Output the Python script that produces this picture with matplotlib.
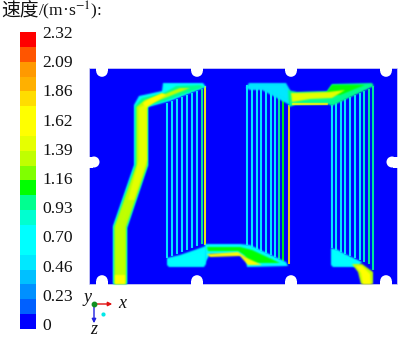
import numpy as np
import matplotlib
matplotlib.use("Agg")
import matplotlib.pyplot as plt
from matplotlib.colors import ListedColormap, BoundaryNorm
from matplotlib.patches import Circle, Polygon, Rectangle

title_cjk = "速度"
title_unit = "/(m·s$^{-1}$):"
tick_labels = ["2.32","2.09","1.86","1.62","1.39","1.16","0.93","0.70","0.46","0.23","0"]
tick_values = [2.32,2.09,1.86,1.62,1.39,1.16,0.93,0.70,0.46,0.23,0.0]
band_colors = ["#0000ff","#0060ff","#0090ff","#00c0ff","#00e8ff","#00ffff","#00ffff","#00ffd0",
               "#00ff90","#00ff00","#80ff00","#c0ff00","#e6ff00","#ffff00","#ffff00","#ffdd00",
               "#ffb000","#ff9900","#ff5500","#ff0000"]
cmap = ListedColormap(band_colors)
norm = BoundaryNorm(np.linspace(0, 2.32, 21), 20)

plate_x = [89, 397]
plate_y = [68, 284]
notch_x = [102, 197, 291, 386]
side_notch_y = [162]

g1_x = [167.3,172.3,177.3,182.3,187.3,192.3,197.3,201.7,204.8]
g1_v = [0.62,0.62,0.62,0.62,0.62,0.62,0.66,1.0,1.7]
g1_top = [103,101,99,97,95,93,91,89,86]
g1_bot = [258,256,254,252,250,248,246,244,245]

g2_x = [247.3,252,256.7,261.3,266,270.7,275.3,279.3,283.3,288.7]
g2_v = [0.62,0.62,0.62,0.62,0.62,0.62,0.66,0.95,1.05,1.75]
g2_top = [85,85,85,86,87,89,91,94,98,105]
g2_bot = [245,247,249,251,253,255,257,259,261,264]

g3_x = [331.7,336,340.5,345,350,355,359.5,364,368.5,372.7]
g3_v = [0.62,0.62,0.62,0.62,0.66,0.7,0.75,0.85,1.0,1.0]
g3_top = [105,103,101,99,97,95,93,91,89,86]
g3_bot = [248,250,252,254,256,258,260,262,264,270]

inlet_outer = [(113,284),(113,226),(134,165),(134,105),(139,96),(162,91),(163,83),(203,83),(206,87),
               (170,101),(148,107),(148,165),(127,228),(127,284)]
inlet_mid = [(113.5,284),(113.5,227),(135,165),(135,106),(142,98),(164,93),(176,86),(200,85),(204,87),
             (168,100),(148,106),(148,165),(127,227),(127,284)]
inlet_core = [(114.5,284),(114.5,227),(136.5,165),(136.5,107),(145,100),(165,94),(180,88),(190,88),(165,98),
              (147,105),(147,165),(126,227),(126,284)]
upper_core = [(139,160),(139,108),(146,104),(147,108),(147,160),(134,200),(128,200)]
inlet_hot = [(115,284),(115,275),(125,275),(125,284)]
bend_hot = [(143,103),(149,99),(162,93),(166,95),(152,104),(146,108)]

bm1 = [(167,258),(167,265),(169,267),(204,267),(206,264),(206,246),(180,255)]
link_a = [(205,244),(240,244),(250,245),(286,262),(288,266),(247,267),(246,258),(238,254),(210,254),(205,263)]
link_b = [(207,247),(240,247),(252,250),(280,263),(250,263),(244,255),(238,251),(208,251)]
link_y = [(207,254),(238,252),(247,258),(262,265),(248,265),(240,256),(210,257)]
top2 = [(246,88),(249,83),(286,83),(290,90),(290,105),(284,102),(262,90),(250,90)]
link2 = [(288,90),(297,92),(327,91),(332,84),(372,83),(374,86),(332,106),(328,104),(295,105),(289,107)]
link2_y = [(291,93),(328,92),(345,90),(332,98),(310,99),(292,102)]
link2_g = [(332,85),(365,85),(340,95),(325,95)]
link2_low = [(292,103),(328,103),(328,105),(292,105)]
bm3 = [(331,248),(331,265),(333,267),(358,267),(362,262),(345,254),(338,250)]
outlet_o = [(352,264),(362,264),(373,272),(373,284),(361,284),(358,272)]
outlet_y = [(356,266),(362,266),(370,274),(371,284),(363,284),(361,273)]

fig = plt.figure(figsize=(4, 3.38), dpi=100)
ax = fig.add_axes([0, 0, 1, 1])
ax.set_xlim(0, 400); ax.set_ylim(338, 0); ax.axis("off")

def blur(sigma):
    rad = int(np.ceil(3 * sigma))
    k = np.exp(-0.5 * (np.arange(-rad, rad + 1) / sigma) ** 2)
    k /= k.sum()
    def f(img, dpi):
        pad = rad + 1
        a = np.pad(img.astype(float), ((pad, pad), (pad, pad), (0, 0)))
        a[..., :3] *= a[..., 3:4]
        for axis in (0, 1):
            a = np.apply_along_axis(lambda m: np.convolve(m, k, mode="same"), axis, a)
        alpha = np.clip(a[..., 3:4], 1e-6, 1)
        a[..., :3] = np.clip(a[..., :3] / alpha, 0, 1)
        return a, -pad, -pad
    return f

def rgb(v):
    return cmap(norm(v))

def poly(verts, v, z=3, s=0.8):
    p = Polygon(verts, closed=True, fc=rgb(v), ec="none", zorder=z)
    p.set_agg_filter(blur(s))
    ax.add_patch(p)

bar = np.linspace(2.31, 0.01, 20).reshape(-1, 1)
ax.imshow(bar, cmap=cmap, norm=norm, extent=[20, 36, 329, 32], aspect="auto", interpolation="nearest", zorder=2)
ax.set_xlim(0, 400); ax.set_ylim(338, 0)
tick_y = np.interp(tick_values, [0, 2.32], [325.5, 34])
for lab, y in zip(tick_labels, tick_y):
    ax.text(42, y, lab, family="Liberation Serif", fontsize=12.6, va="center", ha="left", color="#111111")
ax.text(1, 11, title_cjk, family=["Noto Sans CJK SC", "DejaVu Sans"], fontsize=13.5, va="center", ha="left", color="#111111")
ax.text(38, 11, title_unit, family="Liberation Serif", fontsize=12.6, va="center", ha="left",
        color="#111111", math_fontfamily="stix")

ax.add_patch(Rectangle((plate_x[0], plate_y[0]), plate_x[1]-plate_x[0], plate_y[1]-plate_y[0],
                       fc="#0000ff", ec="#d8d8f0", lw=0.5, zorder=1))

def channels(xs, vs, tops, bots):
    for x, v, t, b in zip(xs, vs, tops, bots):
        line, = ax.plot([x, x], [t, b], color=rgb(v), lw=1.35, solid_capstyle="butt", zorder=3)
        line.set_agg_filter(blur(0.4))

channels(g1_x, g1_v, g1_top, g1_bot)
channels(g2_x, g2_v, g2_top, g2_bot)
channels(g3_x, g3_v, g3_top, g3_bot)

poly(inlet_outer, 0.62, 4)
poly(inlet_mid, 1.0, 4.1)
poly(inlet_core, 1.3, 4.2)
poly(upper_core, 1.45, 4.25)
poly(inlet_hot, 1.6, 4.3)
poly(bend_hot, 1.6, 4.4)
poly(bm1, 0.62, 4)
poly(link_a, 0.62, 4)
poly(link_b, 1.05, 4.1)
poly(link_y, 1.6, 4.2)
poly(top2, 0.55, 4)
poly(link2, 0.95, 4)
poly(link2_g, 1.05, 4.1)
poly(link2_y, 1.5, 4.2)
poly(link2_low, 1.6, 4.3, 0.6)
poly(bm3, 0.6, 4)
poly(outlet_o, 1.3, 4)
poly(outlet_y, 1.62, 4.1)

for x in notch_x:
    for y in plate_y:
        ax.add_patch(Circle((x, y + (3 if y == plate_y[0] else -3)), 5.8, fc="white", ec="none", zorder=5))
        ax.add_patch(Rectangle((x-5.8, y-3 if y == plate_y[1] else y-1), 11.6, 4, fc="white", ec="none", zorder=5))
for y in side_notch_y:
    for x, sgn in ((plate_x[0], 1), (plate_x[1], -1)):
        ax.add_patch(Circle((x + sgn*5, y), 5.5, fc="white", ec="none", zorder=5))
        ax.add_patch(Rectangle((x-2 if sgn == 1 else x-4, y-5.5), 6, 11, fc="white", ec="none", zorder=5))

ax.annotate("", xy=(115, 304), xytext=(94, 304), arrowprops=dict(arrowstyle="-|>", color="#e01010", lw=1, mutation_scale=6), zorder=6)
ax.annotate("", xy=(94, 326), xytext=(94, 304), arrowprops=dict(arrowstyle="-|>", color="#2020e0", lw=1, mutation_scale=6), zorder=6)
ax.plot([94], [304], "o", color="#109020", ms=3.2, zorder=7)
ax.plot([103], [314], "o", color="#00e8e8", ms=2, zorder=7)
for s, x, y in (("y", 88, 297), ("x", 122, 303), ("z", 94, 329)):
    ax.text(x, y, s, family="Liberation Serif", style="italic", fontsize=13, ha="center", va="center", color="#111111")

fig.savefig("out.png", dpi=100)
